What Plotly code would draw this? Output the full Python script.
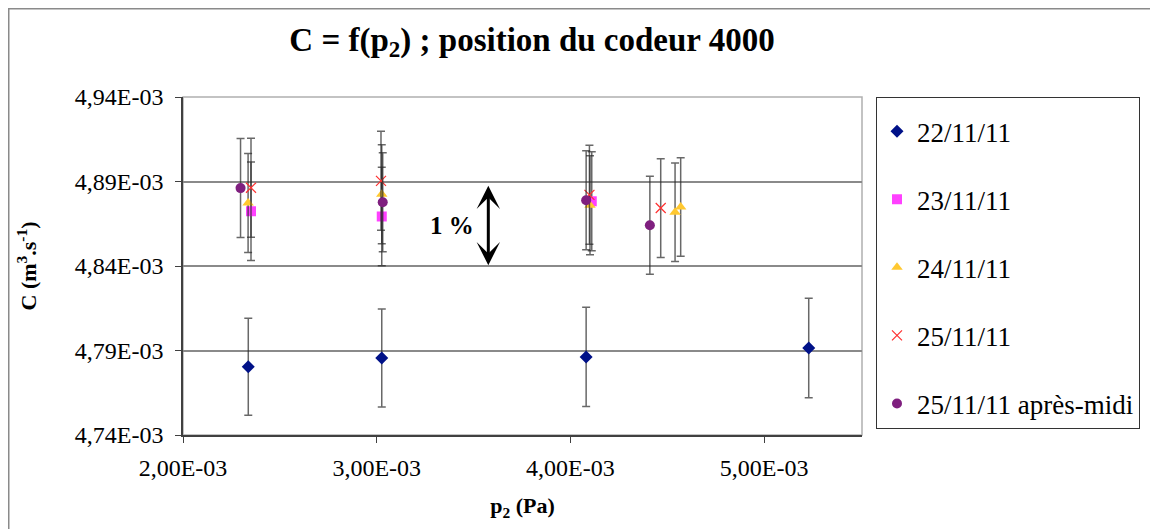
import plotly.graph_objects as go

# ---- data (values in m3/s and Pa) ----
series_names = ["22/11/11", "23/11/11", "24/11/11", "25/11/11", "25/11/11 après-midi"]

p2_22 = [2.337e-3, 3.026e-3, 4.081e-3, 5.230e-3]
c_22 = [4.7804e-3, 4.7856e-3, 4.7862e-3, 4.7915e-3]
err_22 = [0.0287e-3, 0.0290e-3, 0.0294e-3, 0.0294e-3]

p2_23 = [2.351e-3, 3.026e-3, 4.110e-3]
c_23 = [4.8724e-3, 4.8693e-3, 4.8783e-3]
err_23 = [0.0292e-3, 0.0292e-3, 0.0293e-3]

p2_24 = [2.336e-3, 3.026e-3, 4.101e-3, 4.540e-3, 4.569e-3]
c_24 = [4.8773e-3, 4.8824e-3, 4.8760e-3, 4.8718e-3, 4.8749e-3]
err_24 = [0.0293e-3, 0.0293e-3, 0.0293e-3, 0.0292e-3, 0.0292e-3]

p2_25 = [2.351e-3, 3.022e-3, 4.098e-3, 4.466e-3]
c_25 = [4.8863e-3, 4.8904e-3, 4.8821e-3, 4.8743e-3]
err_25 = [0.0293e-3, 0.0293e-3, 0.0293e-3, 0.0292e-3]

p2_25pm = [2.297e-3, 3.031e-3, 4.081e-3, 4.410e-3]
c_25pm = [4.8861e-3, 4.8777e-3, 4.8789e-3, 4.8641e-3]
err_25pm = [0.0293e-3, 0.0293e-3, 0.0293e-3, 0.0290e-3]

y_tickvals = [4.74e-3, 4.79e-3, 4.84e-3, 4.89e-3, 4.94e-3]
y_ticktext = ["4,74E-03", "4,79E-03", "4,84E-03", "4,89E-03", "4,94E-03"]
x_tickvals = [2e-3, 3e-3, 4e-3, 5e-3]
x_ticktext = ["2,00E-03", "3,00E-03", "4,00E-03", "5,00E-03"]

SERIF = "Liberation Serif, Times New Roman, serif"

# page body keeps its default 8px margin, so the figure is 8px smaller
W, H = 1150, 521
M_L, M_R, M_T, M_B = 175, 296, 89, 94
PW = W - M_L - M_R
PH = H - M_T - M_B

styles = [
    {"symbol": "diamond", "size": 10, "color": "#001188"},
    {"symbol": "square", "size": 10, "color": "#ff40ff"},
    {"symbol": "triangle-up", "size": 10, "color": "#ffc830"},
    {"symbol": "x-thin-open", "size": 10, "color": "#ff3030"},
    {"symbol": "circle", "size": 10, "color": "#7f1f7f"},
]

xs = [p2_22, p2_23, p2_24, p2_25, p2_25pm]
ys = [c_22, c_23, c_24, c_25, c_25pm]
errs = [err_22, err_23, err_24, err_25, err_25pm]

fig = go.Figure()
for i, name in enumerate(series_names):
    st = styles[i]
    marker = {"symbol": st["symbol"], "size": st["size"], "color": st["color"]}
    if st["symbol"] == "x-thin-open":
        marker["line"] = {"color": st["color"], "width": 1.2}
    fig.add_trace(
        go.Scatter(
            x=xs[i],
            y=ys[i],
            mode="markers",
            name=name,
            legendgroup=name,
            marker=marker,
            error_y={
                "type": "data",
                "array": errs[i],
                "visible": True,
                "color": "rgba(40,40,40,0.7)",
                "thickness": 1.5,
                "width": 4,
            },
        )
    )

fig.update_layout(
    width=W,
    height=H,
    margin={"l": M_L, "r": M_R, "t": M_T, "b": M_B},
    paper_bgcolor="white",
    plot_bgcolor="white",
    font={"family": SERIF, "color": "black", "size": 24},
    title={
        "text": "<b>C = f(p<sub>2</sub>) ; position du codeur 4000</b>",
        "font": {"family": SERIF, "size": 33, "color": "black"},
        "x": 524 / W,
        "xanchor": "center",
        "y": 1 - 31 / H,
        "yanchor": "middle",
    },
    xaxis={
        "range": [2.0e-3, 5.505e-3],
        "tickvals": x_tickvals,
        "ticktext": x_ticktext,
        "showgrid": False,
        "zeroline": False,
        "showline": True,
        "linecolor": "#404040",
        "linewidth": 1.5,
        "ticks": "outside",
        "ticklen": 6,
        "tickcolor": "#404040",
        "ticklabelstandoff": 4,
        "tickfont": {"size": 24},
        "title": {
            "text": "<b>p<sub>2</sub> (Pa)</b>",
            "font": {"size": 22},
            "standoff": 18,
        },
    },
    yaxis={
        "range": [4.74e-3, 4.94e-3],
        "tickvals": y_tickvals,
        "ticktext": y_ticktext,
        "showgrid": True,
        "gridcolor": "#8a8a8a",
        "gridwidth": 1.5,
        "zeroline": False,
        "showline": True,
        "linecolor": "#404040",
        "linewidth": 1.5,
        "ticks": "outside",
        "ticklen": 6,
        "tickcolor": "#404040",
        "ticklabelstandoff": 7,
        "tickfont": {"size": 24},
        "title": {
            "text": "<b>C (m<sup>3</sup>.s<sup>-1</sup>)</b>",
            "font": {"size": 22},
            "standoff": 32,
        },
    },
    legend={
        "x": (868 - M_L) / PW,
        "y": 1,
        "xanchor": "left",
        "yanchor": "top",
        "bordercolor": "#333333",
        "borderwidth": 1,
        "bgcolor": "white",
        "font": {"family": SERIF, "size": 27, "color": "black"},
        "tracegroupgap": 30,
        "title": {"text": " ", "font": {"size": 7}},
    },
    shapes=[
        # plot-area frame (light grey on top/right)
        {
            "type": "rect", "xref": "paper", "yref": "paper",
            "x0": 0, "x1": 1, "y0": 0, "y1": 1,
            "line": {"color": "#b0b0b0", "width": 1.5},
            "layer": "below",
        },
        # outer chart frame
        {
            "type": "rect", "xref": "paper", "yref": "paper",
            "x0": (0.75 - M_L) / PW, "x1": (W + 10 - M_L) / PW,
            "y0": -(M_B + 10) / PH, "y1": (PH + M_T - 0.75) / PH,
            "line": {"color": "#8a8a8a", "width": 1.5},
            "layer": "below",
        },
    ],
    annotations=[
        {
            "x": 3.576e-3, "y": 4.8404e-3,
            "ax": 3.576e-3, "ay": 4.8884e-3,
            "xref": "x", "yref": "y", "axref": "x", "ayref": "y",
            "text": "",
            "showarrow": True,
            "arrowside": "end+start",
            "arrowhead": 3,
            "startarrowhead": 3,
            "arrowwidth": 3,
            "arrowsize": 1.3,
            "startarrowsize": 1.3,
            "arrowcolor": "black",
            "standoff": 0,
            "startstandoff": 0,
        },
        {
            "x": 3.389e-3, "y": 4.864e-3,
            "xref": "x", "yref": "y",
            "text": "<b>1 %</b>",
            "showarrow": False,
            "font": {"family": SERIF, "size": 25, "color": "black"},
        },
    ],
)

fig.write_html("out.html")
